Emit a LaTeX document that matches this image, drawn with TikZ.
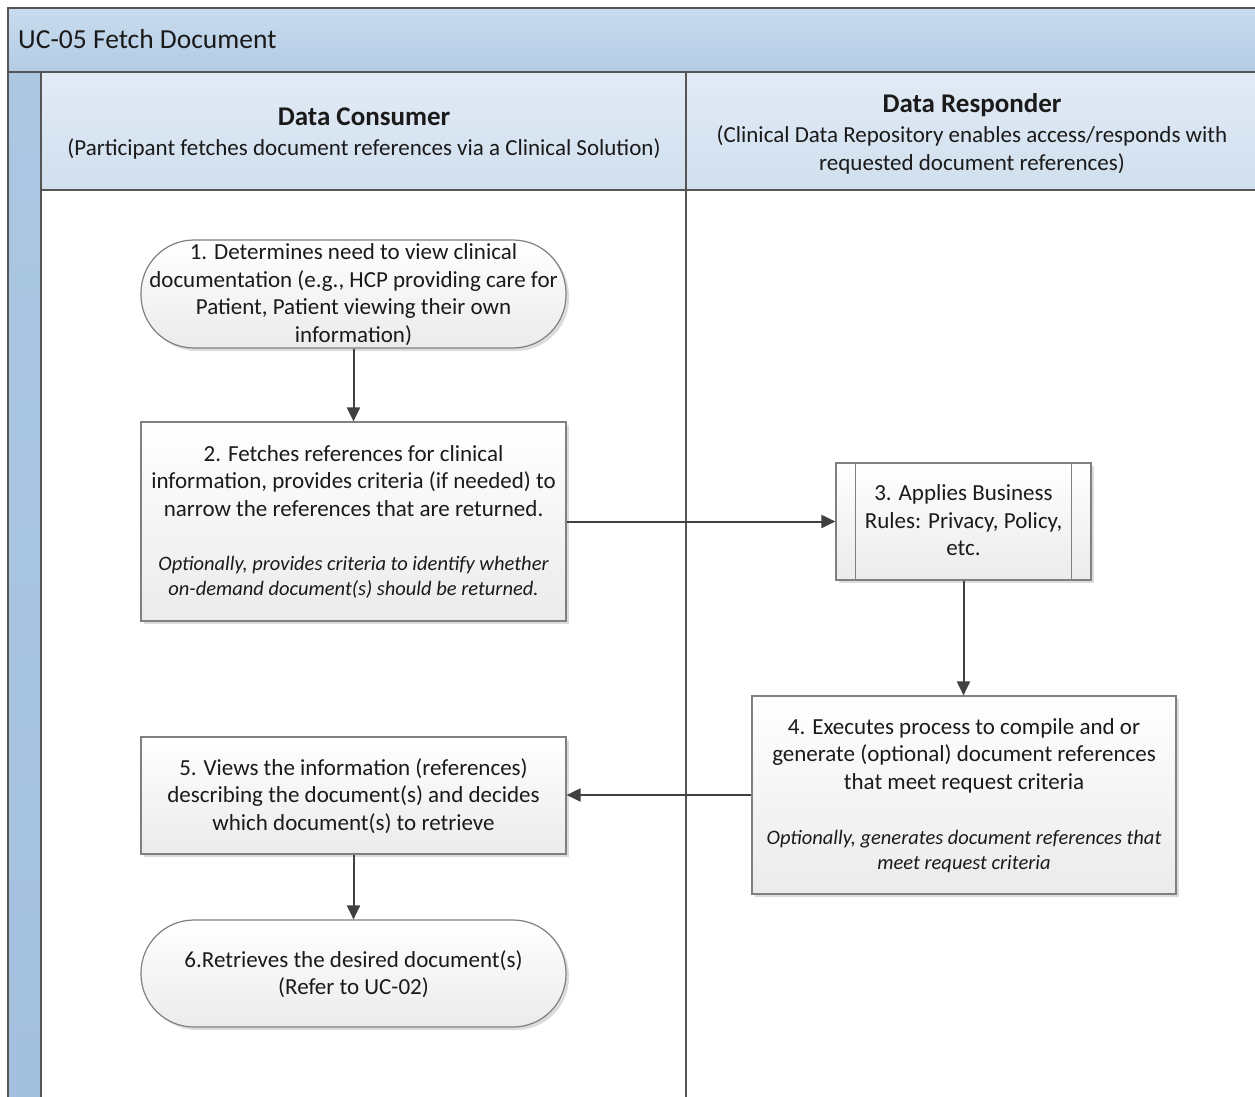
\documentclass[tikz,border=0pt]{standalone}
\usepackage{fontspec}
\setmainfont{Carlito}
\usetikzlibrary{shadows,arrows.meta,calc}
\definecolor{titletop}{HTML}{CADCEE}
\definecolor{titlebot}{HTML}{B2CBE4}
\definecolor{striptop}{HTML}{ABC7E2}
\definecolor{stripbot}{HTML}{A3C0DE}
\definecolor{headtop}{HTML}{E2EBF5}
\definecolor{headbot}{HTML}{D0DFEE}
\definecolor{frame}{HTML}{555555}
\definecolor{boxline}{HTML}{808080}
\definecolor{boxbot}{HTML}{EBEBEB}
\definecolor{arrcol}{HTML}{404040}
\definecolor{txt}{HTML}{1A1A1A}
\newcommand{\bodyfont}{\fontsize{23}{27.5}\selectfont}
\newcommand{\itfont}{\fontsize{20.5}{25}\selectfont\itshape}
\tikzset{
  framestyle/.style={draw=frame, line width=1.6pt},
  box/.style={draw=boxline, line width=1.2pt, top color=white, bottom color=boxbot,
    align=center, font=\bodyfont, text=txt, inner sep=0pt, text depth=2pt,
    drop shadow={shadow xshift=3pt, shadow yshift=-3pt, fill=black!30, opacity=0.45}},
  term/.style={box, rounded corners=53pt},
  arr/.style={draw=arrcol, line width=2pt, -{Triangle[length=14pt,width=13pt]}},
  hdr/.style={align=center, font=\bodyfont, text=txt, inner sep=0pt, text depth=2pt}
}
\begin{document}
\begin{tikzpicture}[x=1pt,y=-1pt]
\clip (0,0) rectangle (1255,1097);
% pool background
\fill[white] (0,0) rectangle (1255,1097);
\shade[top color=titletop, bottom color=titlebot] (8,8) rectangle (1262,72);
\shade[top color=striptop, bottom color=stripbot] (8,72) rectangle (41,1102);
\shade[top color=headtop, bottom color=headbot] (41,72) rectangle (1262,190);
\draw[framestyle] (8,8) rectangle (1262,1102);
\draw[framestyle] (8,72) -- (1262,72);
\draw[framestyle] (41,72) -- (41,1102);
\draw[framestyle] (41,190) -- (1262,190);
\draw[framestyle] (686,72) -- (686,1102);
\node[anchor=base west, font=\fontsize{27.5}{32}\selectfont, text=txt, inner sep=0pt] (title) at (18,49) {UC-05 Fetch Document};
% lane headers
\node[hdr] (h1) at (364,133) {{\fontsize{27}{27.5}\selectfont\bfseries Data Consumer}\\[2.5pt](Participant fetches document references via a Clinical Solution)};
\node[hdr] (h2) at (972,133) {{\fontsize{27}{27.5}\selectfont\bfseries Data Responder}\\[2.5pt](Clinical Data Repository enables access/responds with\\requested document references)};
% flow nodes
\node[term, minimum width=425pt, minimum height=108pt] (n1) at (353.5,294)
  {1. Determines need to view clinical\\documentation (e.g., HCP providing care for\\Patient, Patient viewing their own\\information)};
\node[box, minimum width=425pt, minimum height=199pt] (n2) at (353.5,521.5)
  {2. Fetches references for clinical\\information, provides criteria (if needed) to\\narrow the references that are returned.\\[26.5pt]{\itfont Optionally, provides criteria to identify whether}\\[-2.5pt]{\itfont on-demand document(s) should be returned.}};
\node[box, minimum width=255pt, minimum height=117pt] (n3) at (963.5,521.5)
  {3. Applies Business\\Rules: Privacy, Policy,\\etc.};
\draw[draw=boxline, line width=1.2pt] ($(n3.north west)+(20,0)$) -- ($(n3.south west)+(20,0)$);
\draw[draw=boxline, line width=1.2pt] ($(n3.north east)+(-20,0)$) -- ($(n3.south east)+(-20,0)$);
\node[box, minimum width=424pt, minimum height=198pt] (n4) at (964,795)
  {4. Executes process to compile and or\\generate (optional) document references\\that meet request criteria\\[27.5pt]{\itfont Optionally, generates document references that}\\[-2.5pt]{\itfont meet request criteria}};
\node[box, minimum width=425pt, minimum height=117pt] (n5) at (353.5,795.5)
  {5. Views the information (references)\\describing the document(s) and decides\\which document(s) to retrieve};
\node[term, minimum width=425pt, minimum height=107pt] (n6) at (353.5,973.5)
  {6.Retrieves the desired document(s)\\(Refer to UC-02)};
% connectors
\draw[arr] (n1) -- (n2);
\draw[arr] (n2) -- (n3);
\draw[arr] (n3.south) -- (n3.south |- n4.north);
\draw[arr] (n4.west) -- (n4.west -| n5.east);
\draw[arr] (n5) -- (n6);
\end{tikzpicture}
\end{document}
